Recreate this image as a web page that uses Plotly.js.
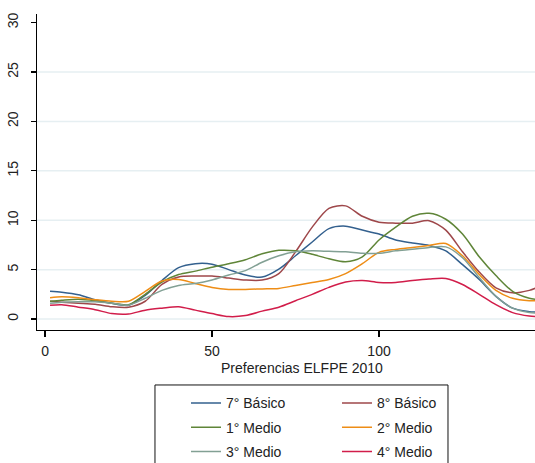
<!DOCTYPE html>
<html><head><meta charset="utf-8">
<script src="https://cdn.plot.ly/plotly-3.0.1.min.js"></script>
<style>html,body{margin:0;padding:0;background:#fff;} #chart{width:535px;height:463px;}</style>
</head><body><div id="chart"></div>
<script>
// x positions (Preferencias ELFPE 2010)
const xVals = [1.5, 5, 10, 15, 20, 25, 30, 35, 40, 45, 50, 55, 60, 65, 70, 75, 80, 85, 90, 95, 100, 105, 110, 115, 120, 125, 130, 135, 140, 145, 147];
const seriesNames = ['7° Básico', '8° Básico', '1° Medio', '2° Medio', '3° Medio', '4° Medio'];
const basico7 = [2.8, 2.7, 2.45, 1.95, 1.6, 1.4, 2.4, 3.9, 5.2, 5.6, 5.55, 5.0, 4.45, 4.25, 5.05, 6.4, 7.8, 9.15, 9.4, 9.0, 8.6, 8.0, 7.7, 7.45, 6.9, 5.5, 4.0, 2.3, 1.1, 0.75, 0.7];
const basico8 = [1.8, 1.7, 1.6, 1.5, 1.25, 1.2, 1.8, 3.5, 4.25, 4.35, 4.35, 4.15, 3.95, 3.95, 4.6, 6.8, 9.3, 11.2, 11.45, 10.4, 9.8, 9.7, 9.7, 9.95, 9.0, 6.8, 4.75, 3.15, 2.65, 2.9, 3.15];
const medio1 = [1.8, 1.9, 2.0, 1.85, 1.6, 1.45, 2.5, 3.75, 4.5, 4.85, 5.25, 5.6, 6.0, 6.6, 6.95, 6.9, 6.55, 6.1, 5.8, 6.3, 8.0, 9.3, 10.4, 10.7, 10.1, 8.6, 6.3, 4.4, 2.8, 2.1, 2.0];
const medio2 = [2.15, 2.25, 2.15, 1.95, 1.8, 1.8, 2.8, 3.85, 4.0, 3.6, 3.2, 3.0, 3.0, 3.05, 3.1, 3.4, 3.7, 4.0, 4.6, 5.6, 6.75, 7.05, 7.25, 7.45, 7.65, 6.4, 4.5, 2.9, 2.1, 1.85, 1.85];
const medio3 = [1.6, 1.7, 1.75, 1.75, 1.6, 1.4, 2.1, 2.9, 3.4, 3.6, 3.95, 4.45, 4.9, 5.75, 6.4, 6.8, 6.9, 6.85, 6.8, 6.65, 6.65, 6.9, 7.05, 7.25, 7.3, 6.2, 4.2, 2.3, 1.1, 0.65, 0.6];
const medio4 = [1.4, 1.45, 1.2, 0.95, 0.55, 0.5, 0.9, 1.1, 1.25, 0.9, 0.55, 0.25, 0.35, 0.8, 1.2, 1.85, 2.5, 3.2, 3.75, 3.9, 3.7, 3.7, 3.9, 4.05, 4.1, 3.5, 2.5, 1.45, 0.65, 0.3, 0.25];
const yTicks = [0, 5, 10, 15, 20, 25, 30];
const xTicks = [0, 50, 100];
const gridVals = [0, 5, 10, 15, 20, 25];
const xTitle = 'Preferencias ELFPE 2010';

const colors = ['#33608e', '#9e474a', '#5f8538', '#ee8d16', '#82a094', '#d11d4a'];
const series = [basico7, basico8, medio1, medio2, medio3, medio4];

const traces = series.map((ys, i) => ({
  x: xVals, y: ys, type: 'scatter', mode: 'lines', name: seriesNames[i],
  line: {color: colors[i], width: 1.5, shape: 'spline', smoothing: 0.8},
  legend: (i % 2 === 0) ? 'legend' : 'legend2',
  legendgroup: 'g' + i, showlegend: true, hoverinfo: 'skip'
}));

const shapes = gridVals.map(v => ({
  type: 'line', xref: 'paper', x0: 0, x1: 1, yref: 'y', y0: v, y1: v,
  line: {color: '#e6eff2', width: 1.5}, layer: 'below'
}));
shapes.push({type: 'rect', xref: 'paper', yref: 'paper', x0: 0.2369, x1: 0.8253, y0: -0.174, y1: -0.47,
  line: {color: '#111', width: 1}, fillcolor: 'rgba(0,0,0,0)', layer: 'above'});

const fontFam = 'Liberation Sans, Arial, sans-serif';
const legendCommon = {
  orientation: 'v', xanchor: 'left', yanchor: 'top', y: -0.1816,
  bgcolor: 'rgba(0,0,0,0)', borderwidth: 0, tracegroupgap: 3,
  font: {family: fontFam, size: 14, color: '#222'}
};

const layout = {
  width: 535, height: 463,
  margin: {l: 37, r: 0, t: 14, b: 133, pad: 0, autoexpand: false},
  paper_bgcolor: '#ffffff', plot_bgcolor: '#ffffff',
  font: {family: fontFam, size: 14, color: '#222'},
  showlegend: true,
  xaxis: {
    range: [-2.4, 146.7], tickvals: xTicks, ticktext: xTicks.map(String),
    ticks: 'outside', ticklen: 6, tickwidth: 1.2, tickcolor: '#000',
    showline: true, linecolor: '#000', linewidth: 1.3,
    showgrid: false, zeroline: false, automargin: false, ticklabelstandoff: 2,
    tickfont: {family: fontFam, size: 14, color: '#222'}
  },
  yaxis: {
    range: [-1.11, 30.87], tickvals: yTicks, ticktext: yTicks.map(String), tickangle: -90,
    ticks: 'outside', ticklen: 5, tickwidth: 1.2, tickcolor: '#000',
    showline: true, linecolor: '#000', linewidth: 1.3,
    showgrid: false, zeroline: false, automargin: false, ticklabelstandoff: 7,
    tickfont: {family: fontFam, size: 14, color: '#222'}
  },
  legend: Object.assign({}, legendCommon, {x: 0.2992}),
  legend2: Object.assign({}, legendCommon, {x: 0.6024}),
  shapes: shapes,
  annotations: [{
    text: xTitle, xref: 'paper', yref: 'paper', x: 0.532, y: -0.1203,
    xanchor: 'center', yanchor: 'middle', showarrow: false,
    font: {family: fontFam, size: 14, color: '#222'}
  }]
};

Plotly.newPlot('chart', traces, layout, {displayModeBar: false, staticPlot: true});
</script>
</body></html>
